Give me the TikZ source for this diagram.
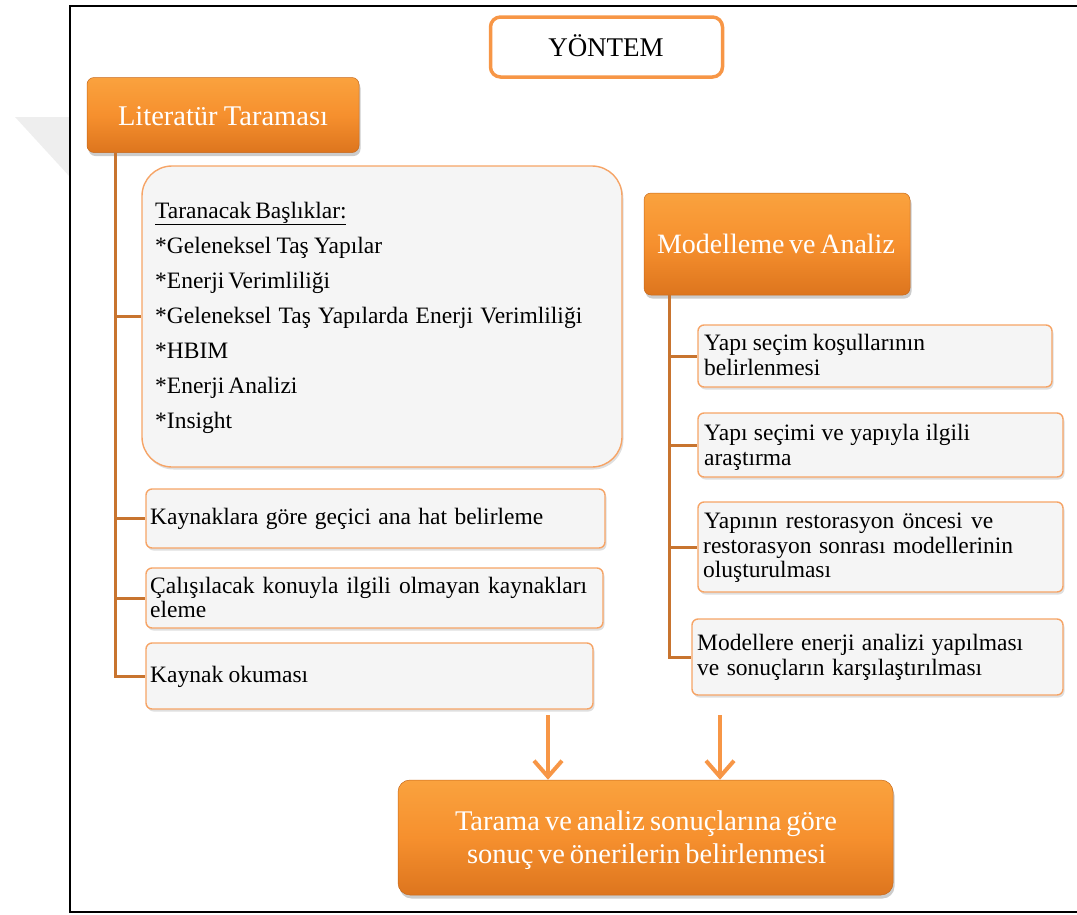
\documentclass[tikz,border=0pt]{standalone}
\usepackage{fontspec}
\setmainfont{Liberation Serif}
\usetikzlibrary{shadows,arrows.meta}
\definecolor{obord}{HTML}{F79646}
\definecolor{lbord}{HTML}{F6A466}
\definecolor{lfill}{HTML}{F5F5F5}
\definecolor{connc}{HTML}{C8742F}
\definecolor{otop}{HTML}{FAA23E}
\definecolor{omid}{HTML}{F6902E}
\definecolor{obot}{HTML}{DD751E}
\definecolor{wmark}{HTML}{EEEEEE}
\newcommand{\jl}[2]{\makebox[#1pt][s]{#2}}
\begin{document}
\begin{tikzpicture}[x=1pt,y=-1pt,
  lbox/.style={draw=lbord, fill=lfill, line width=1.4pt, rounded corners=6pt, inner sep=0pt,
    drop shadow={shadow xshift=1.5pt, shadow yshift=-2.5pt, opacity=0.25}},
  obox/.style={top color=otop, bottom color=obot, middle color=omid, draw=obot!90!black, line width=0.5pt,
    rounded corners=7pt, inner sep=0pt,
    drop shadow={shadow xshift=1.5pt, shadow yshift=-3.5pt, opacity=0.4}},
  ybox/.style={draw=obord, fill=white, line width=3.5pt, rounded corners=10pt, inner sep=0pt},
  tx/.style={font=\fontsize{23.5}{26}\selectfont, inner sep=0pt, anchor=base west, text=black},
  otx/.style={font=\fontsize{28.5}{31}\selectfont, inner sep=0pt, anchor=base, text=white},
  cline/.style={draw=connc, line width=3pt},
  arr/.style={draw=obord, line width=4pt, -{Straight Barb[length=16pt,width=28pt]}}
]
\useasboundingbox (0,0) rectangle (1077,914);
% watermark
\fill[wmark] (15,117) -- (70,117) -- (70,177) -- cycle;
% frame
\draw[line width=2pt] (1090,6) -- (70,6) -- (70,912) -- (1090,912);

% title
\node[ybox, minimum width=232pt, minimum height=60pt] (yon) at (606.5,47) {};
\node[font=\fontsize{27}{30}\selectfont, inner sep=0pt, anchor=base] (yont) at (606,56) {YÖNTEM};

% Literatur
\node[obox, minimum width=272pt, minimum height=75pt] (lit) at (223,115) {};
\node[otx] (litt) at (223,125) {\jl{210}{Literatür Taraması}};

\node[lbox, rounded corners=30pt, minimum width=480pt, minimum height=301pt] (list) at (382,316.5) {};
\node[tx] (l0) at (155,218) {\underline{\jl{191}{Taranacak Başlıklar:}}};
\node[tx] (l1) at (155,253) {\jl{227}{*Geleneksel Taş Yapılar}};
\node[tx] (l2) at (155,288) {\jl{174}{*Enerji Verimliliği}};
\node[tx] (l3) at (155,323) {\jl{427}{*Geleneksel Taş Yapılarda Enerji Verimliliği}};
\node[tx] (l4) at (155,358) {*HBIM};
\node[tx] (l5) at (155,393) {\jl{139}{*Enerji Analizi}};
\node[tx] (l6) at (155,428) {*Insight};

\node[lbox, minimum width=459pt, minimum height=59pt] (b1) at (375.5,518.5) {};
\node[tx] (b1t) at (150,524) {\jl{393}{Kaynaklara göre geçici ana hat belirleme}};
\node[lbox, minimum width=457pt, minimum height=60pt] (b2) at (374.5,598) {};
\node[tx] (b2t) at (150,593) {\jl{437}{Çalışılacak konuyla ilgili olmayan kaynakları}};
\node[tx] (b2u) at (150,617) {eleme};
\node[lbox, minimum width=447pt, minimum height=66pt] (b3) at (369.5,676) {};
\node[tx] (b3t) at (150,682) {\jl{158}{Kaynak okuması}};

% Modelleme
\node[obox, minimum width=266pt, minimum height=102pt] (mod) at (777,244) {};
\node[otx, font=\fontsize{28}{31}\selectfont] (modt) at (775,253) {\jl{236}{Modelleme ve Analiz}};

\node[lbox, minimum width=354pt, minimum height=62pt] (r1) at (875,356) {};
\node[tx] (r1a) at (704,350) {\jl{221}{Yapı seçim koşullarının}};
\node[tx] (r1b) at (704,375) {belirlenmesi};
\node[lbox, minimum width=365pt, minimum height=64pt] (r2) at (880.5,445) {};
\node[tx] (r2a) at (704,440) {\jl{266}{Yapı seçimi ve yapıyla ilgili}};
\node[tx] (r2b) at (704,465) {araştırma};
\node[lbox, minimum width=365pt, minimum height=90pt] (r3) at (880.5,547) {};
\node[tx] (r3a) at (704,528) {\jl{289}{Yapının restorasyon öncesi ve}};
\node[tx] (r3b) at (703,553) {\jl{310}{restorasyon sonrası modellerinin}};
\node[tx] (r3c) at (703,577) {oluşturulması};
\node[lbox, minimum width=371pt, minimum height=76pt] (r4) at (877.5,657) {};
\node[tx] (r4a) at (697,650) {\jl{326}{Modellere enerji analizi yapılması}};
\node[tx] (r4b) at (697,675) {\jl{285}{ve sonuçların karşılaştırılması}};

% final
\node[obox, rounded corners=12pt, minimum width=495pt, minimum height=115pt] (fin) at (645.5,837.5) {};
\node[otx] (fin1) at (646,830) {\jl{382}{Tarama ve analiz sonuçlarına göre}};
\node[otx] (fin2) at (646,863) {\jl{358}{sonuç ve önerilerin belirlenmesi}};

% connectors left
\coordinate (lv) at ([xshift=29pt]lit.south west);
\draw[cline] (lv) -- (lv |- b3.west) -- (b3.west);
\draw[cline] (lv |- list.west) -- (list.west);
\draw[cline] (lv |- b1.west) -- (b1.west);
\draw[cline] (lv |- b2.west) -- (b2.west);
% connectors right
\coordinate (rv) at ([xshift=26pt]mod.south west);
\draw[cline] (rv) -- (rv |- r4.west) -- (r4.west);
\draw[cline] (rv |- r1.west) -- (r1.west);
\draw[cline] (rv |- r2.west) -- (r2.west);
\draw[cline] (rv |- r3.west) -- (r3.west);
% arrows
\coordinate (a1) at (548,715);
\coordinate (a2) at (720,715);
\draw[arr] (a1) -- (a1 |- fin.north);
\draw[arr] (a2) -- (a2 |- fin.north);
\end{tikzpicture}
\end{document}
